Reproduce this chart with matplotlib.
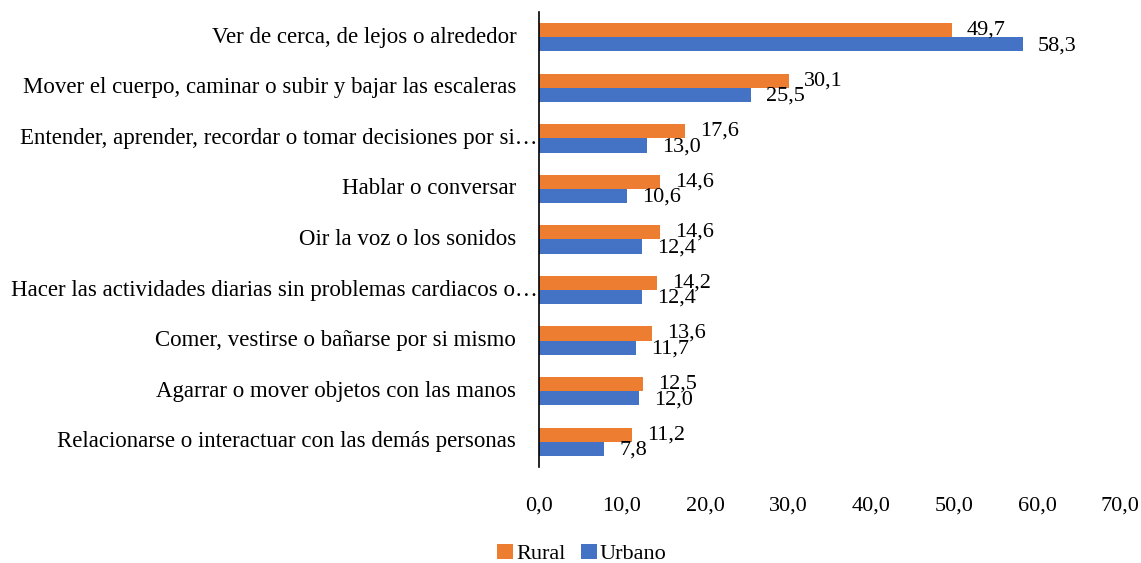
import matplotlib
matplotlib.use("Agg")
import matplotlib.pyplot as plt
import numpy as np
from matplotlib.transforms import blended_transform_factory

plt.rcParams['font.family'] = ['Liberation Serif', 'DejaVu Serif']

categories = [
    "Ver de cerca, de lejos o alrededor",
    "Mover el cuerpo, caminar o subir y bajar las escaleras",
    "Entender, aprender, recordar o tomar decisiones por si…",
    "Hablar o conversar",
    "Oir la voz o los sonidos",
    "Hacer las actividades diarias sin problemas cardiacos o…",
    "Comer, vestirse o bañarse por si mismo",
    "Agarrar o mover objetos con las manos",
    "Relacionarse o interactuar con las demás personas",
]
rural = [49.7, 30.1, 17.6, 14.6, 14.6, 14.2, 13.6, 12.5, 11.2]
urbano = [58.3, 25.5, 13.0, 10.6, 12.4, 12.4, 11.7, 12.0, 7.8]
series_names = ["Rural", "Urbano"]
xticks = [0, 10, 20, 30, 40, 50, 60, 70]

c_rural = "#ED7D31"
c_urbano = "#4472C4"
FS = 16

fig = plt.figure(figsize=(11.41, 5.63), dpi=100)
ax = fig.add_axes([539/1141, 1-467/563, (1120-539)/1141, (467-12)/563])

y = np.arange(len(categories))
h = 0.28
b1 = ax.barh(y - h/2, rural, height=h, color=c_rural, label=series_names[0])
b2 = ax.barh(y + h/2, urbano, height=h, color=c_urbano, label=series_names[1])

ax.set_ylim(len(categories) - 0.5, -0.5)
ax.set_xlim(0, 70)
ax.set_xticks(xticks)
ax.set_xticklabels([f"{v:.1f}".replace('.', ',') for v in xticks], fontsize=FS)
ax.tick_params(axis='x', length=0, pad=21)
ax.set_yticks([])

for s in ['top', 'right', 'bottom']:
    ax.spines[s].set_visible(False)
ax.spines['left'].set_color('black')
ax.spines['left'].set_linewidth(1.2)

trans = blended_transform_factory(ax.transAxes, ax.transData)
for yi, lab in zip(y, categories):
    dx = -0.003 if lab.endswith('…') else -0.039
    ax.text(dx, yi, lab, transform=trans, ha='right', va='center', fontsize=16.5)

for yi, v in zip(y, rural):
    ax.annotate(f"{v:.1f}".replace('.', ','), (v, yi - h/2), xytext=(11, 0),
                textcoords='offset points', ha='left', va='center', fontsize=FS)
for yi, v in zip(y, urbano):
    ax.annotate(f"{v:.1f}".replace('.', ','), (v, yi + h/2), xytext=(11, -1),
                textcoords='offset points', ha='left', va='center', fontsize=FS)

fig.legend(handles=[b1, b2], loc='center', bbox_to_anchor=(582/1141, 1-554/563),
           ncol=2, frameon=False, fontsize=FS, handlelength=0.7, handleheight=0.7,
           handletextpad=0.15, columnspacing=0.7, borderpad=0)

fig.savefig("out.png", dpi=100)
